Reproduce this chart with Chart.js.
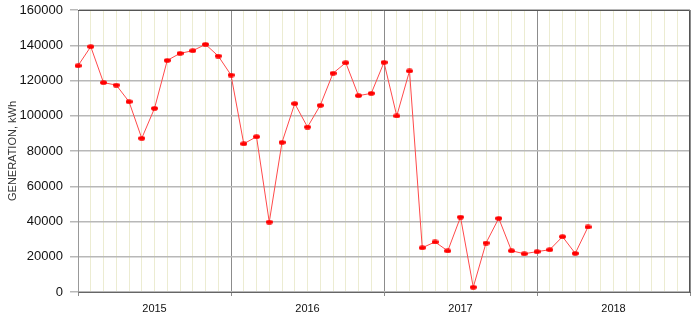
<!DOCTYPE html>
<html>
<head>
<meta charset="utf-8">
<script src="https://cdn.jsdelivr.net/npm/chart.js@4"></script>
<style>
  html, body { margin: 0; padding: 0; background: #fff; }
  #wrap { width: 700px; height: 318px; }
</style>
</head>
<body>
<div id="wrap"><canvas id="myChart"></canvas></div>
<script>
// monthly slots Jan 2015 .. Jan 2019
const months = [];
for (let y = 2015; y <= 2018; y++) {
    for (let m = 1; m <= 12; m++) months.push(y + '-' + String(m).padStart(2, '0'));
}
months.push('2019-01');

const yearLabels = ['2015', '2016', '2017', '2018'];

const generation = [
    128400, 139200, 118800, 117400, 108000, 87200, 104200, 131400, 135400, 136900, 140500, 133900,
    123100, 84100, 88100, 39700, 84900, 106900, 93600, 105900, 124100, 130100, 111400, 112700,
    130300, 99900, 125400, 25100, 28400, 23300, 42500, 2700, 27800, 41800, 23400, 21700,
    22900, 24000, 31400, 21900, 36900
];

const yTicks = { min: 0, max: 160000, step: 20000 };

// flat red ellipse marker
const dot = document.createElement('canvas');
dot.width = 7; dot.height = 5;
const dctx = dot.getContext('2d');
dctx.fillStyle = '#ff0000';
dctx.beginPath();
dctx.ellipse(3.5, 2.5, 3.5, 2.3, 0, 0, Math.PI * 2);
dctx.fill();

const frame = {
    id: 'frame',
    afterDatasetsDraw(chart) {
        const a = chart.chartArea, c = chart.ctx;
        c.save();
        c.strokeStyle = '#555';
        c.lineWidth = 1;
        c.beginPath();
        c.moveTo(a.left, a.top + 0.5);
        c.lineTo(a.right - 0.5, a.top + 0.5);
        c.lineTo(a.right - 0.5, a.bottom);
        c.stroke();
        c.restore();
    }
};

const ctx = document.getElementById('myChart');
new Chart(ctx, {
    type: 'line',
    data: {
        labels: months,
        datasets: [{
            label: 'Generation',
            data: generation,
            borderColor: '#ff4a4a',
            borderWidth: 1,
            pointStyle: dot,
            pointRadius: 4,
            tension: 0,
            fill: false
        }]
    },
    options: {
        responsive: true,
        maintainAspectRatio: false,
        animation: false,
        layout: { padding: { top: 0, right: 10, left: 0, bottom: 0 } },
        plugins: { legend: { display: false }, tooltip: { enabled: false } },
        scales: {
            x: {
                type: 'category',
                offset: false,
                afterFit(s) { s.height = 26; },
                grid: {
                    color: c => (c.index % 12 === 0 ? '#8c8c8c' : '#ececd2'),
                    tickColor: c => (c.index % 12 === 0 ? '#8c8c8c' : 'rgba(0,0,0,0)'),
                    tickLength: 4,
                    lineWidth: 1
                },
                border: { color: '#666', width: 1 },
                ticks: {
                    autoSkip: false,
                    maxRotation: 0,
                    padding: 6,
                    color: '#111',
                    font: { family: 'Liberation Sans, Arial, sans-serif', size: 11 },
                    callback: (v, i) => (i % 12 === 6 ? yearLabels[Math.floor(i / 12)] : '')
                }
            },
            y: {
                min: yTicks.min,
                max: yTicks.max,
                afterFit(s) { s.width = 78; s.paddingTop = 10; },
                grid: { color: '#b8b8b8', lineWidth: 1.5, tickLength: 8 },
                border: { color: '#999', width: 1 },
                ticks: {
                    stepSize: yTicks.step,
                    padding: 7,
                    color: '#111',
                    font: { family: 'Liberation Sans, Arial, sans-serif', size: 13 },
                    callback: v => String(v)
                },
                title: {
                    display: true,
                    text: 'GENERATION, kWh',
                    color: '#333',
                    padding: { top: 6, bottom: 0 },
                    font: { family: 'Liberation Sans, Arial, sans-serif', size: 11 }
                }
            }
        }
    },
    plugins: [frame]
});
</script>
</body>
</html>
